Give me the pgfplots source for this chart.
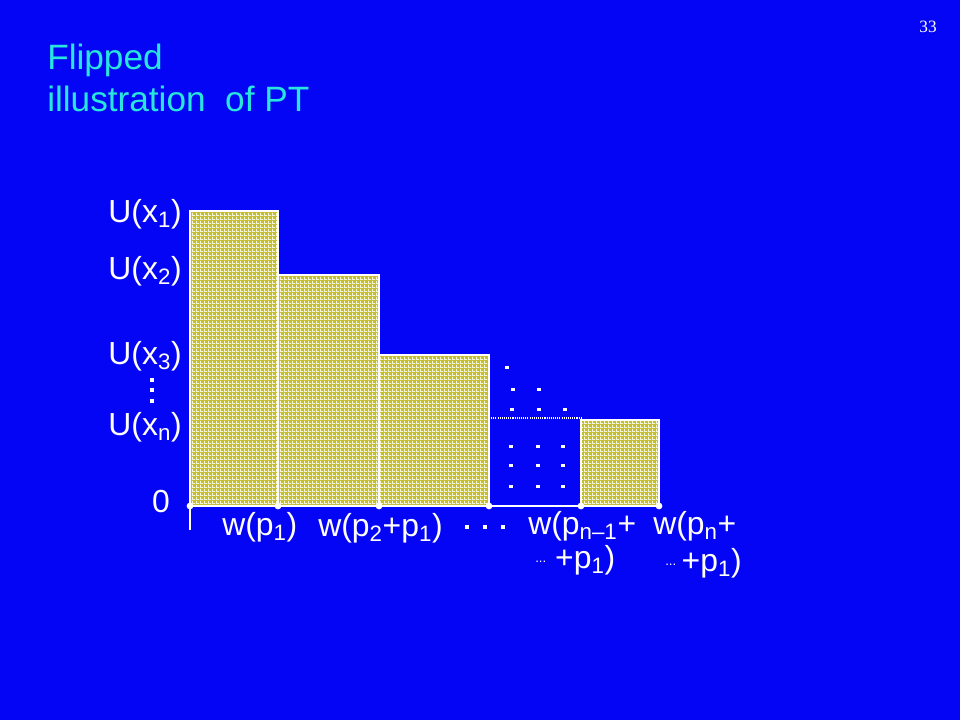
\documentclass[border=0pt]{standalone}
\usepackage{pgfplots}
\pgfplotsset{compat=1.18}
\usepackage{fontspec}
\setmainfont{Liberation Sans}
\newfontfamily\seriffont{Liberation Serif}
\usetikzlibrary{patterns.meta}
\definecolor{bg}{RGB}{5,5,245}
\definecolor{ttl}{RGB}{40,230,220}
\definecolor{barc}{RGB}{198,190,50}
\definecolor{gridc}{RGB}{245,245,215}
\tikzdeclarepattern{
  name=cells,
  type=uncolored,
  bounding box={(0,0) and (3bp,3bp)},
  tile size={(3bp,3bp)},
  code={
    \fill (0,0) rectangle (3bp,0.8bp);
    \fill (0,0) rectangle (0.8bp,3bp);
  }
}
\newcommand\lab{\fontsize{24}{24}\selectfont}
\newcommand\sdots{\raisebox{5bp}{\fontsize{10}{10}\selectfont...}}
\begin{document}
\begin{tikzpicture}
\begin{axis}[
  scale only axis, width=720bp, height=540bp,
  xmin=-190, xmax=770, ymin=-214, ymax=506,
  axis line style={draw=none}, ticks=none,
  axis background/.style={fill=bg},
  clip=false,
]
% bars: cumulative weight edges vs utility
\addplot[fill=barc, draw=none] coordinates {(0,0) (0,295) (88,295) (88,0)} -- cycle;
\addplot[fill=barc, draw=none] coordinates {(88,0) (88,231) (189,231) (189,0)} -- cycle;
\addplot[fill=barc, draw=none] coordinates {(189,0) (189,151) (299,151) (299,0)} -- cycle;
\addplot[fill=barc, draw=none] coordinates {(391,0) (391,86) (469,86) (469,0)} -- cycle;
\addplot[pattern=cells, pattern color=gridc, draw=white, line width=0.8bp] coordinates {(0,0) (0,295) (88,295) (88,0)} -- cycle;
\addplot[pattern=cells, pattern color=gridc, draw=white, line width=0.8bp] coordinates {(88,0) (88,231) (189,231) (189,0)} -- cycle;
\addplot[pattern=cells, pattern color=gridc, draw=white, line width=0.8bp] coordinates {(189,0) (189,151) (299,151) (299,0)} -- cycle;
\addplot[pattern=cells, pattern color=gridc, draw=white, line width=0.8bp] coordinates {(391,0) (391,86) (469,86) (469,0)} -- cycle;
% dotted top of the missing bar
\addplot[white, line width=0.8bp, dash pattern=on 0.8bp off 0.8bp] coordinates {(299,88) (391,88)};
% baseline and tick
\addplot[white, line width=1bp] coordinates {(0,0) (469,0)};
\addplot[white, line width=0.8bp] coordinates {(0,0) (0,-24)};
% base points
\addplot[only marks, mark=*, mark size=2.3bp, white] coordinates {(0,0) (88,0) (189,0) (299,0) (391,0) (469,0)};
% dots for omitted bars
\addplot[only marks, mark=square*, mark size=0.8bp, white, mark options={xscale=1.5}] coordinates {
 (317,139) (323,117) (349,117) (322,97) (349,97) (375,97)
 (321,60) (348,60) (373,60) (321,41) (348,41) (373,41) (321,20) (348,20) (373,20)};
% vertical dots on y side
\addplot[only marks, mark=square*, mark size=1.3bp, white] coordinates {(-38,126) (-38,116) (-38,105)};
% horizontal dots on x side
\addplot[only marks, mark=square*, mark size=1bp, white] coordinates {(277,-21) (295,-21) (313,-21)};
% y labels
\node[anchor=base east, white, inner sep=0pt] at (axis cs:-8,283) {\lab U(x\textsubscript{1})};
\node[anchor=base east, white, inner sep=0pt] at (axis cs:-8,226) {\lab U(x\textsubscript{2})};
\node[anchor=base east, white, inner sep=0pt] at (axis cs:-8,141) {\lab U(x\textsubscript{3})};
\node[anchor=base east, white, inner sep=0pt] at (axis cs:-8,70) {\lab U(x\textsubscript{n})};
\node[anchor=base east, white, inner sep=0pt] at (axis cs:-20,-7) {\lab 0};
% x labels
\node[anchor=base west, white, inner sep=0pt] at (axis cs:32,-30) {\lab w(p\textsubscript{1})};
\node[anchor=base west, white, inner sep=0pt] at (axis cs:128,-31) {\lab w(p\textsubscript{2}+p\textsubscript{1})};
\node[anchor=base west, white, inner sep=0pt] at (axis cs:338,-29) {\lab w(p\textsubscript{n–1}+};
\node[anchor=base west, white, inner sep=0pt] at (axis cs:345,-63) {\lab \sdots\ +p\textsubscript{1})};
\node[anchor=base west, white, inner sep=0pt] at (axis cs:463,-29) {\lab w(p\textsubscript{n}+};
\node[anchor=base west, white, inner sep=0pt] at (axis cs:475,-66) {\lab \sdots\,+p\textsubscript{1})};
% title
\node[anchor=base west, text=ttl, inner sep=0pt] at (axis cs:-143,436) {\fontsize{26.5}{30}\selectfont Flipped};
\node[anchor=base west, text=ttl, inner sep=0pt] at (axis cs:-143,394) {\fontsize{26.5}{30}\selectfont illustration\ \ of PT};
% page number
\node[anchor=base east, white, inner sep=0pt] at (axis cs:747,473) {\seriffont\fontsize{13}{13}\selectfont 33};
\end{axis}
\end{tikzpicture}
\end{document}
